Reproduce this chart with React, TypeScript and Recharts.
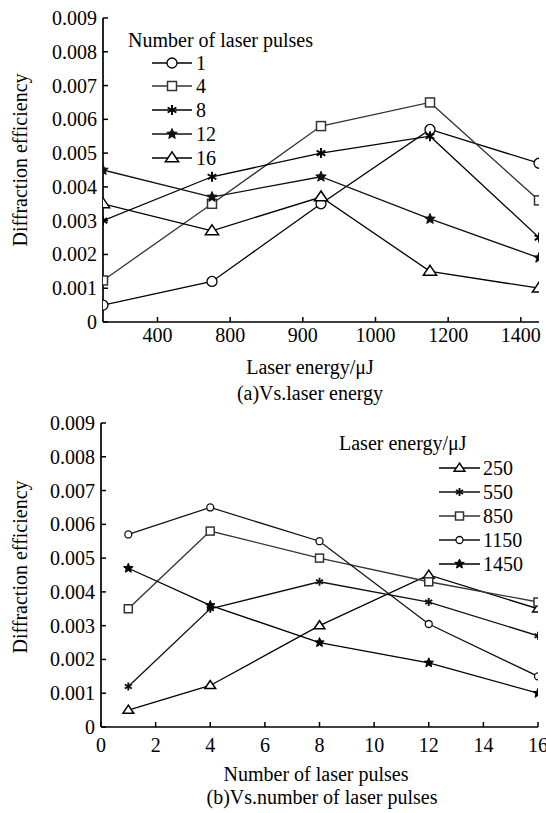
import React from 'react'
import { LineChart, Line, XAxis, YAxis } from 'recharts'

const FONT = "'Liberation Serif', 'Times New Roman', serif"

const energies = [250, 550, 850, 1150, 1450]
const pulses = [1, 4, 8, 12, 16]

// diffraction efficiency for each pulse count, across the energies above
const eff1 = [0.0005, 0.0012, 0.0035, 0.0057, 0.0047]
const eff4 = [0.00123, 0.0035, 0.0058, 0.0065, 0.0036]
const eff8 = [0.003, 0.0043, 0.005, 0.0055, 0.0025]
const eff12 = [0.0045, 0.0037, 0.0043, 0.00305, 0.0019]
const eff16 = [0.0035, 0.0027, 0.0037, 0.0015, 0.001]
const effByPulse = [eff1, eff4, eff8, eff12, eff16]

// tick labels as printed in the figure (the energy axis labels are printed that way)
const energyTicks = [400, 600, 800, 1000, 1200, 1400]
const energyTickLabels = ['400', '800', '900', '1000', '1200', '1400']
const pulseTicks = [0, 2, 4, 6, 8, 10, 12, 14, 16]
const pulseTickLabels = ['0', '2', '4', '6', '8', '10', '12', '14', '16']
const effTicks = [0, 0.001, 0.002, 0.003, 0.004, 0.005, 0.006, 0.007, 0.008, 0.009]
const effTickLabels = ['0', '0.001', '0.002', '0.003', '0.004', '0.005', '0.006', '0.007', '0.008', '0.009']

const pulseShapes = ['circle', 'square', 'asterisk', 'star', 'triangle']
const pulseColors = ['#000', '#333', '#000', '#111', '#000']
const energyShapes = ['triangle', 'asterisk', 'square', 'circle', 'star']
const energyColors = ['#000', '#111', '#333', '#111', '#000']

const dataA = energies.map((e, j) => {
  const row: any = { energy: e }
  pulses.forEach((p, i) => { row['p' + p] = effByPulse[i][j] })
  return row
})

const dataB = pulses.map((p, i) => {
  const row: any = { pulse: p }
  energies.forEach((e, j) => { row['e' + e] = effByPulse[i][j] })
  return row
})

function Marker({ shape, x, y, s, color }: any) {
  if (shape === 'circle')
    return <circle cx={x} cy={y} r={s} fill="#fff" stroke={color} strokeWidth={1.3} />
  if (shape === 'square')
    return <rect x={x - s} y={y - s} width={2 * s} height={2 * s} fill="#fff" stroke={color} strokeWidth={1.5} />
  if (shape === 'triangle') {
    const pts = `${x},${y - s * 1.1} ${x - s * 1.2},${y + s * 0.7} ${x + s * 1.2},${y + s * 0.7}`
    return <polygon points={pts} fill="#fff" stroke={color} strokeWidth={1.5} />
  }
  if (shape === 'asterisk') {
    const a = s * 0.87, b = s * 0.5
    return (
      <g stroke={color} strokeWidth={1.9}>
        <line x1={x} y1={y - s} x2={x} y2={y + s} />
        <line x1={x - a} y1={y - b} x2={x + a} y2={y + b} />
        <line x1={x - a} y1={y + b} x2={x + a} y2={y - b} />
      </g>
    )
  }
  // five point star
  const pts: string[] = []
  for (let k = 0; k < 10; k++) {
    const r = k % 2 === 0 ? s : s * 0.45
    const ang = -Math.PI / 2 + (k * Math.PI) / 5
    pts.push(`${x + r * Math.cos(ang)},${y + r * Math.sin(ang)}`)
  }
  return <polygon points={pts.join(' ')} fill={color} stroke={color} strokeWidth={1} />
}

const BottomTick = ({ x, y, payload, ticks, labels, dy }: any) => {
  const i = ticks.indexOf(payload.value)
  return (
    <g>
      <line x1={x} y1={y} x2={x} y2={y - 5} stroke="#000" strokeWidth={1.5} />
      <text x={x} y={y + dy} textAnchor="middle" fontFamily={FONT} fontSize={20} fill="#000">
        {labels[i]}
      </text>
    </g>
  )
}

const LeftTick = ({ x, y, payload }: any) => {
  const i = effTicks.indexOf(payload.value)
  return (
    <g>
      <line x1={x} y1={y} x2={x + 5} y2={y} stroke="#000" strokeWidth={1.5} />
      <text x={x - 6} y={y + 7} textAnchor="end" fontFamily={FONT} fontSize={20} fill="#000">
        {effTickLabels[i]}
      </text>
    </g>
  )
}

const TopTick = ({ x, y }: any) => <line x1={x} y1={y} x2={x} y2={y + 5} stroke="#000" strokeWidth={1.5} />
const RightTick = ({ x, y }: any) => <line x1={x} y1={y} x2={x - 5} y2={y} stroke="#000" strokeWidth={1.5} />

function Panel({ data, xKey, domain, ticks, labels, keys, shapes, colors, size, height, marginRight, yWidth, xHeight, tickDy }: any) {
  return (
    <LineChart width={546} height={height} data={data} margin={{ top: 18, right: marginRight, bottom: 0, left: 0 }}>
      <XAxis
        dataKey={xKey}
        type="number"
        domain={domain}
        ticks={ticks}
        allowDataOverflow
        height={xHeight}
        tickSize={0}
        tickMargin={0}
        tickLine={false}
        interval={0}
        axisLine={{ stroke: '#000', strokeWidth: 1.7 }}
        tick={(p: any) => <BottomTick {...p} ticks={ticks} labels={labels} dy={tickDy} />}
      />
      <XAxis
        xAxisId="top"
        orientation="top"
        dataKey={xKey}
        type="number"
        domain={domain}
        ticks={ticks}
        allowDataOverflow
        height={0}
        tickSize={0}
        tickMargin={0}
        tickLine={false}
        interval={0}
        axisLine={{ stroke: '#000', strokeWidth: 1.7 }}
        tick={(p: any) => <TopTick {...p} />}
      />
      <YAxis
        type="number"
        domain={[0, 0.009]}
        ticks={effTicks}
        allowDataOverflow
        width={yWidth}
        tickSize={0}
        tickMargin={0}
        tickLine={false}
        interval={0}
        axisLine={{ stroke: '#000', strokeWidth: 1.7 }}
        tick={(p: any) => <LeftTick {...p} />}
      />
      <YAxis
        yAxisId="right"
        orientation="right"
        type="number"
        domain={[0, 0.009]}
        ticks={effTicks}
        allowDataOverflow
        width={0}
        tickSize={0}
        tickMargin={0}
        tickLine={false}
        interval={0}
        axisLine={{ stroke: '#000', strokeWidth: 1.7 }}
        tick={(p: any) => <RightTick {...p} />}
      />
      {keys.map((k: string, i: number) => (
        <Line
          key={k}
          dataKey={k}
          stroke={colors[i]}
          strokeWidth={1.3}
          isAnimationActive={false}
          activeDot={false}
          dot={(p: any) => (
            <Marker key={k + '-' + p.index} shape={shapes[i]} x={p.cx} y={p.cy} s={size[i]} color={colors[i]} />
          )}
        />
      ))}
    </LineChart>
  )
}

function LegendBlock({ title, titleX, titleY, rowY, lineX1, lineX2, labelX, names, shapes, colors, size }: any) {
  return (
    <g fontFamily={FONT} fontSize={20} fill="#000">
      <text x={titleX} y={titleY}>{title}</text>
      {names.map((n: string, i: number) => (
        <g key={n}>
          <line x1={lineX1} y1={rowY[i]} x2={lineX2} y2={rowY[i]} stroke={colors[i]} strokeWidth={1.7} />
          <Marker shape={shapes[i]} x={(lineX1 + lineX2) / 2} y={rowY[i]} s={size[i]} color={colors[i]} />
          <text x={labelX} y={rowY[i] + 7}>{n}</text>
        </g>
      ))}
    </g>
  )
}

export default function App() {
  const pulseKeys = pulses.map((p) => 'p' + p)
  const energyKeys = energies.map((e) => 'e' + e)
  return (
    <div style={{ position: 'absolute', left: 0, top: 0, width: 546, height: 813, background: '#fff' }}>
      <div style={{ position: 'absolute', left: 0, top: 0 }}>
        <Panel
          data={dataA}
          xKey="energy"
          domain={[250, 1450]}
          ticks={energyTicks}
          labels={energyTickLabels}
          keys={pulseKeys}
          shapes={pulseShapes}
          colors={pulseColors}
          size={[5, 4.5, 5, 5.5, 5.5]}
          height={410}
          marginRight={7}
          yWidth={103}
          xHeight={88}
          tickDy={20}
        />
      </div>
      <div style={{ position: 'absolute', left: 0, top: 405 }}>
        <Panel
          data={dataB}
          xKey="pulse"
          domain={[0, 16]}
          ticks={pulseTicks}
          labels={pulseTickLabels}
          keys={energyKeys}
          shapes={energyShapes}
          colors={energyColors}
          size={[4.5, 4, 4, 3.5, 5]}
          height={408}
          marginRight={8}
          yWidth={101}
          xHeight={86}
          tickDy={25}
        />
      </div>
      <svg width={546} height={813} style={{ position: 'absolute', left: 0, top: 0, pointerEvents: 'none' }}>
        <g fontFamily={FONT} fontSize={20} fill="#000" textAnchor="middle">
          <text x={310} y={374}>Laser energy/μJ</text>
          <text x={310} y={400}>(a)Vs.laser energy</text>
          <text x={316} y={781}>Number of laser pulses</text>
          <text x={322} y={804}>(b)Vs.number of laser pulses</text>
          <text transform="translate(27,160) rotate(-90)">Diffraction efficiency</text>
          <text transform="translate(27,567) rotate(-90)">Diffraction efficiency</text>
        </g>
        <LegendBlock
          title="Number of laser pulses"
          titleX={128}
          titleY={47}
          rowY={[63, 86, 110, 134, 158]}
          lineX1={152}
          lineX2={192}
          labelX={196}
          names={pulses.map(String)}
          shapes={pulseShapes}
          colors={pulseColors}
          size={[5, 4.5, 5, 5.5, 5.5]}
        />
        <LegendBlock
          title="Laser energy/μJ"
          titleX={339}
          titleY={450}
          rowY={[468, 492, 516, 540, 564]}
          lineX1={439}
          lineX2={480}
          labelX={483}
          names={energies.map(String)}
          shapes={energyShapes}
          colors={energyColors}
          size={[4.5, 4, 4, 3.5, 5]}
        />
      </svg>
    </div>
  )
}
